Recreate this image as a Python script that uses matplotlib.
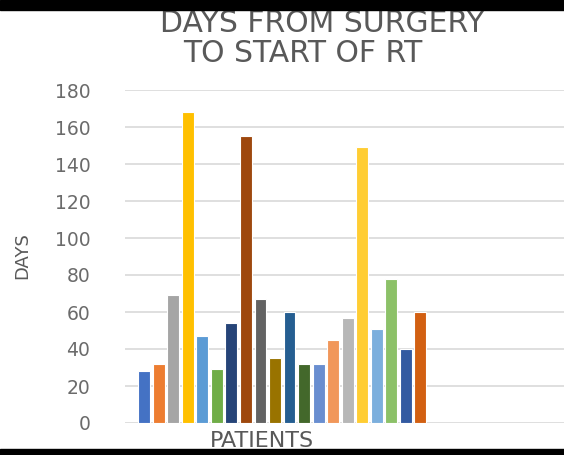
import matplotlib
matplotlib.use("Agg")
import matplotlib.pyplot as plt
from matplotlib.patches import Rectangle

# days from surgery to start of RT, one bar per patient
patients = list(range(1, 21))
days = [28, 32, 69, 168, 47, 29, 54, 155, 67, 35,
        60, 32, 32, 45, 57, 149, 51, 78, 40, 60]
colors = ['#4472C4', '#ED7D31', '#A5A5A5', '#FFC000', '#5B9BD5',
          '#70AD47', '#264478', '#9E480E', '#636363', '#997300',
          '#255E91', '#43682B', '#698ED0', '#F1975A', '#B7B7B7',
          '#FFCD33', '#7CAFDD', '#8CC168', '#335AA1', '#D26012']
yticks = [0, 20, 40, 60, 80, 100, 120, 140, 160, 180]

W, H = 564, 455
fig = plt.figure(figsize=(W / 100, H / 100), dpi=100)
ax = fig.add_axes([125 / W, (H - 423) / H, (W - 125) / W, (423 - 90) / H])

x = [p - 1 for p in patients]
ax.bar(x, days, width=0.82, color=colors, edgecolor='white', linewidth=0.8, zorder=3)

ax.set_ylim(0, 180)
ax.set_xlim(-1.33, 28.9)
ax.set_yticks(yticks)
ax.set_xticks([])
ax.yaxis.grid(True, color='#d9d9d9', linewidth=1.2, zorder=0)
for s in ax.spines.values():
    s.set_visible(False)
ax.tick_params(axis='y', length=0, pad=25, labelsize=13.5, labelcolor='#6b6b6b')

grey = '#595959'
fig.text(322 / W, 1 - 23 / H, 'DAYS FROM SURGERY', ha='center', va='center',
         fontsize=21.5, color=grey)
fig.text(303 / W, 1 - 54 / H, 'TO START OF RT', ha='center', va='center',
         fontsize=21.5, color=grey)
fig.text(22 / W, 1 - 256 / H, 'DAYS', rotation=90, ha='center', va='center',
         fontsize=13, color=grey)
fig.text(262 / W, 1 - 447 / H, 'PATIENTS', ha='center', va='baseline',
         fontsize=16, color=grey)

# black bands from the screenshot edges
fig.patches.append(Rectangle((0, 1 - 10 / H), 1, 10 / H, transform=fig.transFigure,
                             color='black', zorder=10))
fig.patches.append(Rectangle((0, 0), 1, 6 / H, transform=fig.transFigure,
                             color='black', zorder=10))

fig.savefig('out.png', dpi=100)
